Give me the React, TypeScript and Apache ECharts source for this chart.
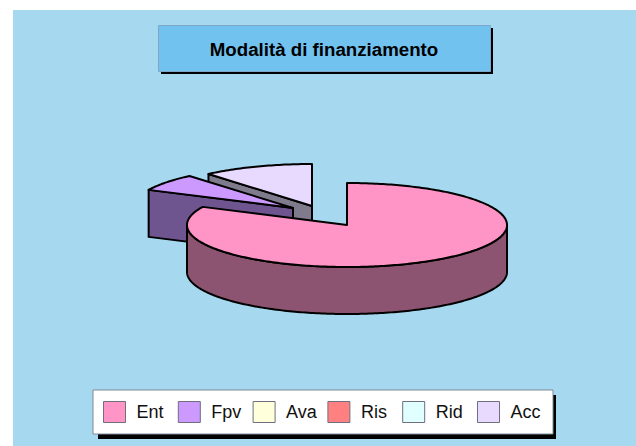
import React, { useEffect, useRef } from "react";
import * as echarts from "echarts";

const categories = ["Ent", "Fpv", "Ava", "Ris", "Rid", "Acc"];
const values = [82.1, 6.7, 0, 0, 0, 11.2];
const topColors = ["#FF94C6", "#CC99FF", "#FFFFDC", "#FF8080", "#E0FFFF", "#E8DAFF"];
const sideColors = ["#8C5470", "#6F5590", "#8C8C78", "#8C4646", "#7B8C8C", "#7F7B8C"];
const titleText = "Modalità di finanziamento";

const CX = 347, CY = 225, RX = 160, RY = 42, DEPTH = 47;
const offsets = [[0, 0], [-54, -17], [0, 0], [0, 0], [0, 0], [-35, -19]];
const total = values.reduce((a, b) => a + b, 0);
const LINE = { stroke: "#000", lineWidth: 2, lineJoin: "round" };

function arcPoints(x: number, y: number, a0: number, a1: number) {
  const pts: number[][] = [];
  const steps = Math.max(2, Math.ceil(Math.abs(a1 - a0)));
  for (let i = 0; i <= steps; i++) {
    const a = ((a0 + ((a1 - a0) * i) / steps) * Math.PI) / 180;
    pts.push([x + RX * Math.sin(a), y - RY * Math.cos(a)]);
  }
  return pts;
}

function sliceShapes(index: number) {
  const before = values.slice(0, index).reduce((a, b) => a + b, 0);
  const a0 = (before / total) * 360;
  const a1 = ((before + values[index]) / total) * 360;
  if (values[index] <= 0) return [];
  const x = CX + offsets[index][0];
  const y = CY + offsets[index][1];
  const side = { fill: sideColors[index], ...LINE };
  const top = { fill: topColors[index], ...LINE };
  const children: any[] = [];
  const radialWall = (a: number) => {
    const p = arcPoints(x, y, a, a)[0];
    children.push({
      type: "polygon",
      shape: { points: [[x, y], p, [p[0], p[1] + DEPTH], [x, y + DEPTH]] },
      style: side,
    });
  };
  if (Math.cos(((a0 - 90) * Math.PI) / 180) < -1e-6) radialWall(a0);
  if (Math.cos(((a1 + 90) * Math.PI) / 180) < -1e-6) radialWall(a1);
  const f0 = Math.max(a0, 90), f1 = Math.min(a1, 270);
  if (f1 > f0) {
    const arc = arcPoints(x, y, f0, f1);
    const low = arc.map((p) => [p[0], p[1] + DEPTH]).reverse();
    children.push({ type: "polygon", shape: { points: [...arc, ...low] }, style: side });
  }
  children.push({
    type: "polygon",
    shape: { points: [[x, y], ...arcPoints(x, y, a0, a1)] },
    style: top,
  });
  return children;
}

const zOrder = [3, 2, 1, 1, 1, 0];

export default function App() {
  const ref = useRef<HTMLDivElement>(null);
  useEffect(() => {
    const chart = echarts.init(ref.current!, undefined, { renderer: "svg" });
    chart.setOption({
      animation: false,
      backgroundColor: "#ffffff",
      graphic: [
        { type: "rect", z: -10, shape: { x: 13, y: 10, width: 623, height: 436 }, style: { fill: "#A6D8F0" } },
        { type: "rect", z: -9, shape: { x: 161, y: 28, width: 332, height: 46 }, style: { fill: "#000" } },
        { type: "rect", z: -8, shape: { x: 158.5, y: 25.5, width: 332, height: 46 }, style: { fill: "#72C2F0", stroke: "#7FA8C8", lineWidth: 1 } },
        { type: "rect", z: -9, shape: { x: 98, y: 395, width: 458, height: 44 }, style: { fill: "#000" } },
        { type: "rect", z: -8, shape: { x: 93, y: 390, width: 460, height: 44 }, style: { fill: "#fff", stroke: "#7F8A94", lineWidth: 1 } },
      ],
      title: {
        text: titleText,
        left: 324,
        top: 40,
        textAlign: "center",
        padding: 0,
        textStyle: { fontFamily: "Liberation Sans", fontSize: 18.7, fontWeight: "bold", color: "#000" },
      },
      legend: categories.map((name, i) => ({
        left: 103 + 74.8 * i,
        top: 401,
        orient: "horizontal",
        itemWidth: 22,
        itemHeight: 21,
        itemGap: 0,
        padding: 0,
        icon: "rect",
        selectedMode: false,
        data: [name],
        itemStyle: { borderColor: "#6F6F80", borderWidth: 1 },
        textStyle: {
          fontFamily: "Liberation Sans",
          fontSize: 18,
          color: "#111",
          padding: [0, 0, 0, 6],
        },
      })),
      series: categories.map((name, i) => ({
        type: "custom",
        name,
        coordinateSystem: "none",
        z: 2 + zOrder[i],
        itemStyle: { color: topColors[i] },
        data: [[values[i]]],
        renderItem: () => ({ type: "group", children: sliceShapes(i) }),
      })),
    });
    return () => chart.dispose();
  }, []);
  return (
    <div
      ref={ref}
      style={{ position: "absolute", left: 0, top: 0, width: 636, height: 446 }}
    />
  );
}
